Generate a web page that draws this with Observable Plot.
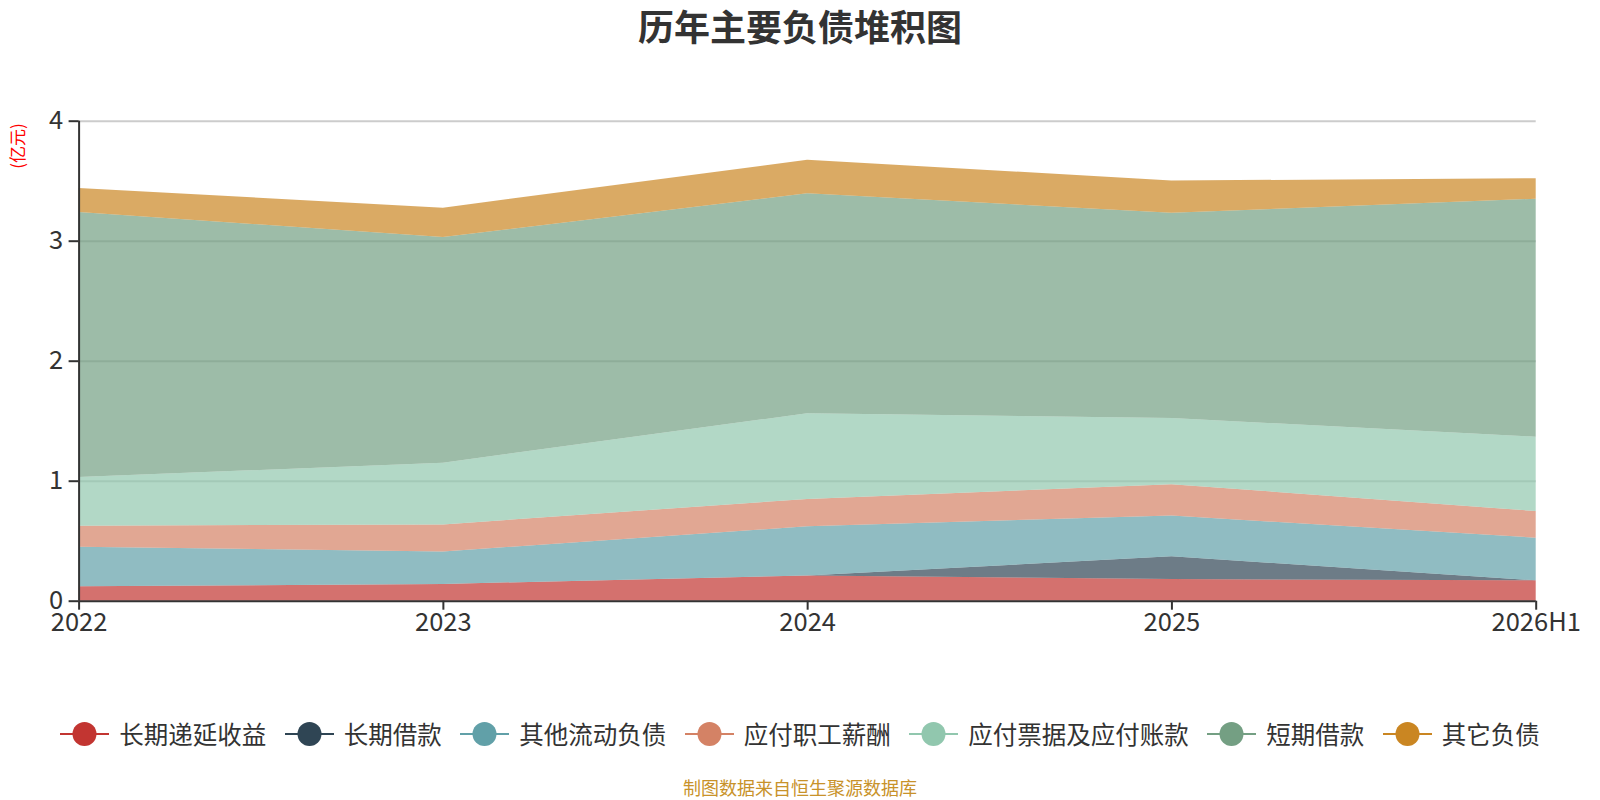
<!DOCTYPE html>
<html><head><meta charset="utf-8">
<script src="https://cdn.jsdelivr.net/npm/d3@7"></script>
<script src="https://cdn.jsdelivr.net/npm/@observablehq/plot@0.6"></script>
<style>
body{margin:0;background:#fff;font-family:"Noto Sans CJK SC","Noto Sans",sans-serif;}
#wrap{position:relative;width:1600px;height:800px;overflow:hidden;background:#fff}
#title{position:absolute;left:0;top:7px;width:1600px;text-align:center;font-size:36px;line-height:36px;font-weight:bold;color:#333}
#ylab{position:absolute;left:16px;top:146px;transform:translate(-50%,-50%) rotate(-90deg);font-size:17px;line-height:17px;color:#ff0000;white-space:nowrap}
#chart{position:absolute;left:0;top:0}
#legend{position:absolute;left:0;top:716px;width:1600px;display:flex;justify-content:center;align-items:center;gap:18.5px}
.item{display:flex;align-items:center;gap:10px;font-size:24.5px;line-height:36px;color:#333}
#foot{position:absolute;left:0;top:777px;width:1600px;text-align:center;font-size:18px;line-height:20px;color:#c8922a}
</style></head><body>
<div id="wrap">
<div id="chart"></div>
<div id="title">历年主要负债堆积图</div>
<div id="ylab">(亿元)</div>
<div id="legend"></div>
<div id="foot">制图数据来自恒生聚源数据库</div>
</div>
<script>
const categories = ["2022", "2023", "2024", "2025", "2026H1"];
const seriesNames = ["长期递延收益", "长期借款", "其他流动负债", "应付职工薪酬", "应付票据及应付账款", "短期借款", "其它负债"];
const colors = ["#c23531", "#2f4554", "#61a0a8", "#d48265", "#91c7ae", "#749f83", "#ca8622"];
const deferredIncome   = [0.12, 0.14, 0.21, 0.18, 0.17];
const longTermLoans    = [0, 0, 0, 0.19, 0];
const otherCurrentLiab = [0.33, 0.27, 0.41, 0.34, 0.355];
const payroll          = [0.175, 0.226, 0.228, 0.261, 0.222];
const notesPayable     = [0.405, 0.514, 0.714, 0.551, 0.62];
const shortTermLoans   = [2.21, 1.88, 1.833, 1.71, 1.983];
const otherLiab        = [0.20, 0.245, 0.28, 0.27, 0.17];
const yTicks = [0, 1, 2, 3, 4];

const seriesValues = [deferredIncome, longTermLoans, otherCurrentLiab, payroll, notesPayable, shortTermLoans, otherLiab];
const data = [];
seriesNames.forEach((s, k) => seriesValues[k].forEach((v, i) => data.push({series: s, i, value: v})));

const chart = Plot.plot({
  width: 1600, height: 800,
  marginTop: 120.7, marginBottom: 199.3, marginLeft: 78.6, marginRight: 64.3,
  style: {fontFamily: '"Noto Sans CJK SC","Noto Sans",sans-serif', fontSize: "25.5px", color: "#333", background: "transparent"},
  x: {type: "linear", domain: [0, categories.length - 1]},
  y: {domain: [0, 4]},
  color: {domain: seriesNames, range: colors},
  marks: [
    Plot.ruleY(yTicks.filter(d => d > 0), {stroke: "#ccc", strokeWidth: 2}),
    Plot.areaY(data, {x: "i", y: "value", fill: "series", fillOpacity: 0.7}),
    Plot.ruleX([0], {stroke: "#333", strokeWidth: 2}),
    Plot.ruleY([0], {stroke: "#333", strokeWidth: 2}),
    Plot.axisX({ticks: d3.range(categories.length), tickFormat: i => categories[i], tickSize: 9, tickPadding: 3, fontSize: 25.5, label: null, strokeWidth: 2}),
    Plot.axisY({ticks: yTicks, tickFormat: d => d, tickSize: 10, tickPadding: 6, fontSize: 25.5, label: null, strokeWidth: 2})
  ]
});
document.getElementById("chart").appendChild(chart);

const legend = document.getElementById("legend");
seriesNames.forEach((s, k) => {
  const it = document.createElement("div");
  it.className = "item";
  it.innerHTML = `<svg width="49" height="26"><line x1="0" x2="49" y1="13" y2="13" stroke="${colors[k]}" stroke-width="2"/><circle cx="24.5" cy="13" r="12" fill="${colors[k]}"/></svg><span>${s}</span>`;
  legend.appendChild(it);
});
</script>
</body></html>
